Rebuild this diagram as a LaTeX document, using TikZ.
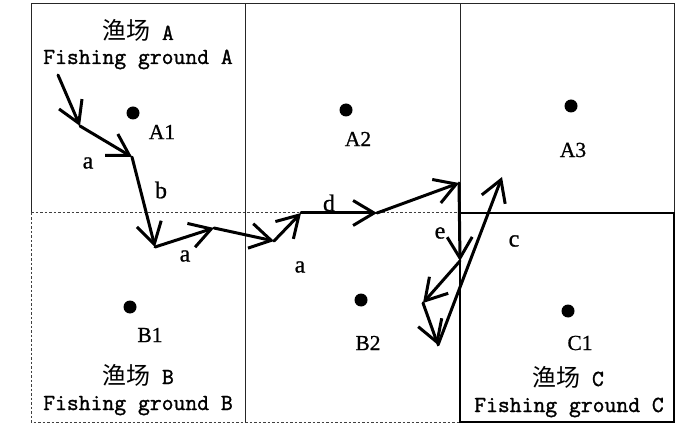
\documentclass[tikz,border=0pt]{standalone}
\usepackage{fontspec}
\setmainfont{Liberation Serif}[FakeBold=0.8]
\setmonofont{Latin Modern Mono}[FakeBold=1.4]
\newfontfamily\cjk{Noto Sans CJK SC}
\usetikzlibrary{arrows.meta}
\begin{document}
\begin{tikzpicture}[x=1pt,y=-1pt,
  gridline/.style={line width=1pt,black!85},
  dashline/.style={line width=1pt,black!75,dash pattern=on 2.5pt off 2pt},
  boxC/.style={line width=2.6pt,black},
  arr/.style={line width=3pt,line cap=round,line join=round,
    -{Straight Barb[length=21pt,width=25pt,line width=3pt]}},
  dot/.style={circle,fill=black,inner sep=0pt,minimum size=13pt},
  ptlabel/.style={font=\fontsize{21.5}{24}\selectfont,inner sep=0pt},
  seglabel/.style={font=\fontsize{24}{26}\selectfont,inner sep=0pt},
  cjkline/.style={anchor=base,inner sep=0pt,font=\fontsize{23}{26}\selectfont},
  fgline/.style={anchor=base,inner sep=0pt,font=\fontsize{23}{26}\selectfont\ttfamily}]
\useasboundingbox (0,0) rectangle (700,427);

% grid
\draw[gridline] (31,213) -- (31,3.5) -- (674,3.5) -- (674,213);
\draw[gridline] (245.5,3.5) -- (245.5,422);
\draw[gridline] (460,3.5) -- (460,213);
\draw[dashline] (31,213) -- (31,422) -- (460,422);
\draw[dashline] (31,213) -- (460,213);
\draw[boxC] (460,213) rectangle (674,422);

% titles
\node[cjkline] (tA) at (138,40) {{\fontsize{24}{26}\selectfont\cjk 渔场}\ttfamily\ A};
\node[fgline] (fA) at (138,64) {Fishing ground A};
\node[cjkline] (tB) at (138,384) {{\fontsize{24}{26}\selectfont\cjk 渔场}\ttfamily\ B};
\node[fgline] (fB) at (138,410) {Fishing ground B};
\node[cjkline] (tC) at (568,386) {{\fontsize{24}{26}\selectfont\cjk 渔场}\ttfamily\ C};
\node[fgline] (fC) at (569,412) {Fishing ground C};

% centres
\node[dot] (dA1) at (133,113) {};
\node[dot] (dA2) at (346,110) {};
\node[dot] (dA3) at (571,106) {};
\node[dot] (dB1) at (130,307) {};
\node[dot] (dB2) at (361,300) {};
\node[dot] (dC1) at (568,311) {};
\node[ptlabel] (lA1) at (162,132) {A1};
\node[ptlabel] (lA2) at (358,139) {A2};
\node[ptlabel] (lA3) at (573,150) {A3};
\node[ptlabel] (lB1) at (150,335) {B1};
\node[ptlabel] (lB2) at (368,343) {B2};
\node[ptlabel] (lC1) at (580,343) {C1};

% track
\coordinate (p0) at (58,75);
\coordinate (p1) at (80,126);
\coordinate (p2) at (132,157);
\coordinate (p3) at (155,247);
\coordinate (p4) at (214,228);
\coordinate (p5) at (274,241);
\coordinate (p6) at (301,213);
\coordinate (p7) at (377,213);
\coordinate (p8) at (459,183);
\coordinate (p9) at (460,261);
\coordinate (p10) at (423,303);
\coordinate (p11) at (438,345);
\coordinate (p12) at (502,177);
\draw[arr] (p0) -- (p1);
\draw[arr] (p1) -- (p2);
\draw[arr] (p2) -- (p3);
\draw[arr] (p3) -- (p4);
\draw[arr] (p4) -- (p5);
\draw[arr] (p5) -- (p6);
\draw[arr] (p6) -- (p7);
\draw[arr] (p7) -- (p8);
\draw[arr] (p8) -- (p9);
\draw[arr] (p9) -- (p10);
\draw[arr] (p10) -- (p11);
\draw[arr] (p11) -- (p12);

% segment labels
\node[seglabel] (la1) at (88,163) {a};
\node[seglabel] (lb) at (161,190) {b};
\node[seglabel] (la2) at (185,256) {a};
\node[seglabel] (la3) at (300,267) {a};
\node[seglabel] (ld) at (329,203) {d};
\node[seglabel] (le) at (440,233) {e};
\node[seglabel] (lc) at (514,241) {c};
\end{tikzpicture}
\end{document}
